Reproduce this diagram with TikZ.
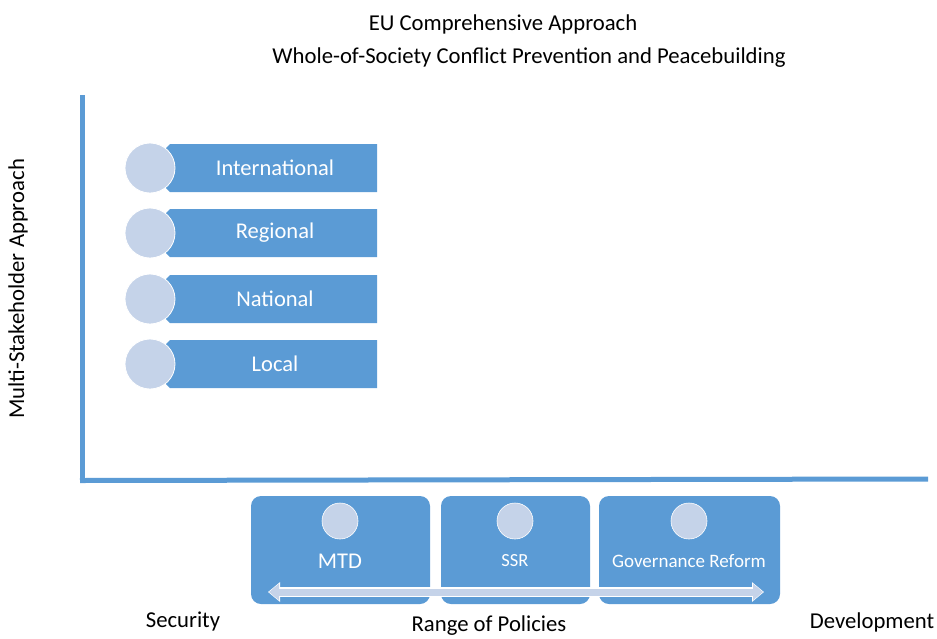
\documentclass[tikz,border=0pt]{standalone}
\usepackage{fontspec}
\setmainfont{Carlito}
\usetikzlibrary{arrows.meta}
\definecolor{obl}{HTML}{5B9BD5}
\definecolor{lbl}{HTML}{C5D3E9}
\tikzset{
  axis/.style={draw=obl, line width=5pt},
  lvlcirc/.style={circle, fill=lbl, draw=white, line width=0.8pt, minimum size=50pt, inner sep=0pt},
  lvltext/.style={text=white, font=\fontsize{22.5}{26}\selectfont, anchor=center},
  polbox/.style={fill=obl, draw=none, rounded corners=10pt},
  polcirc/.style={circle, fill=lbl, draw=white, line width=0.6pt, minimum size=36pt, inner sep=0pt},
  poltext/.style={text=white, anchor=center},
  lab/.style={text=black, font=\fontsize{22.7}{26}\selectfont, anchor=center},
}
\begin{document}
\begin{tikzpicture}[x=1pt,y=-1pt]
\useasboundingbox (0,0) rectangle (937,638);
% titles
\node[lab] (t1) at (503,24) {EU Comprehensive Approach};
\node[lab] (t2) at (529,58) {Whole-of-Society Conflict Prevention and Peacebuilding};
% axes
\coordinate (vtop) at (82.5,95);
\coordinate (orig) at (82.5,482);
\coordinate (hend) at (928,479);
\draw[axis] (vtop) -- (orig);
\draw[axis] (80,480.5) -- (hend);
\node[lab, rotate=90] (yl) at (18,289) {Multi-Stakeholder Approach};
% levels
\foreach \n/\y/\t in {int/168/International, reg/233/Regional, nat/299/National, loc/364/Local}{
  \fill[obl] (170,\y-24) -- (377,\y-24) -- (377,\y+24) -- (170,\y+24) -- (163,\y+17) -- (163,\y-17) -- cycle;
  \node[lvltext] (\n) at (275,\y) {\t};
  \node[lvlcirc] (\n c) at (150,\y) {};
}
% policy boxes
\fill[polbox] (251,496) rectangle (430,604);
\fill[polbox] (441,496) rectangle (590,604);
\fill[polbox] (599,496) rectangle (780,604);
\node[polcirc] (c1) at (340,521) {};
\node[polcirc] (c2) at (515,521) {};
\node[polcirc] (c3) at (689,521) {};
\node[poltext, font=\fontsize{22.5}{26}\selectfont] (mtd) at (340,561) {MTD};
\node[poltext, font=\fontsize{18.5}{22}\selectfont] (ssr) at (515,561) {SSR};
\node[poltext, font=\fontsize{19}{22}\selectfont] (gov) at (689,561) {Governance Reform};
% double arrow
\coordinate (al) at (269,592);
\coordinate (ar) at (763,592);
\draw[draw=white, line width=9.5pt, {Triangle[length=12pt,width=19pt]}-{Triangle[length=12pt,width=19pt]}, shorten <=-1pt, shorten >=-1pt] (al) -- (ar);
\draw[draw=lbl, fill=lbl, line width=7pt, {Triangle[length=10pt,width=16pt]}-{Triangle[length=10pt,width=16pt]}] (al) -- (ar);
% bottom labels
\node[lab] (sec) at (183,622) {Security};
\node[lab] (rng) at (489,626) {Range of Policies};
\node[lab] (dev) at (872,622) {Development};
\end{tikzpicture}
\end{document}
